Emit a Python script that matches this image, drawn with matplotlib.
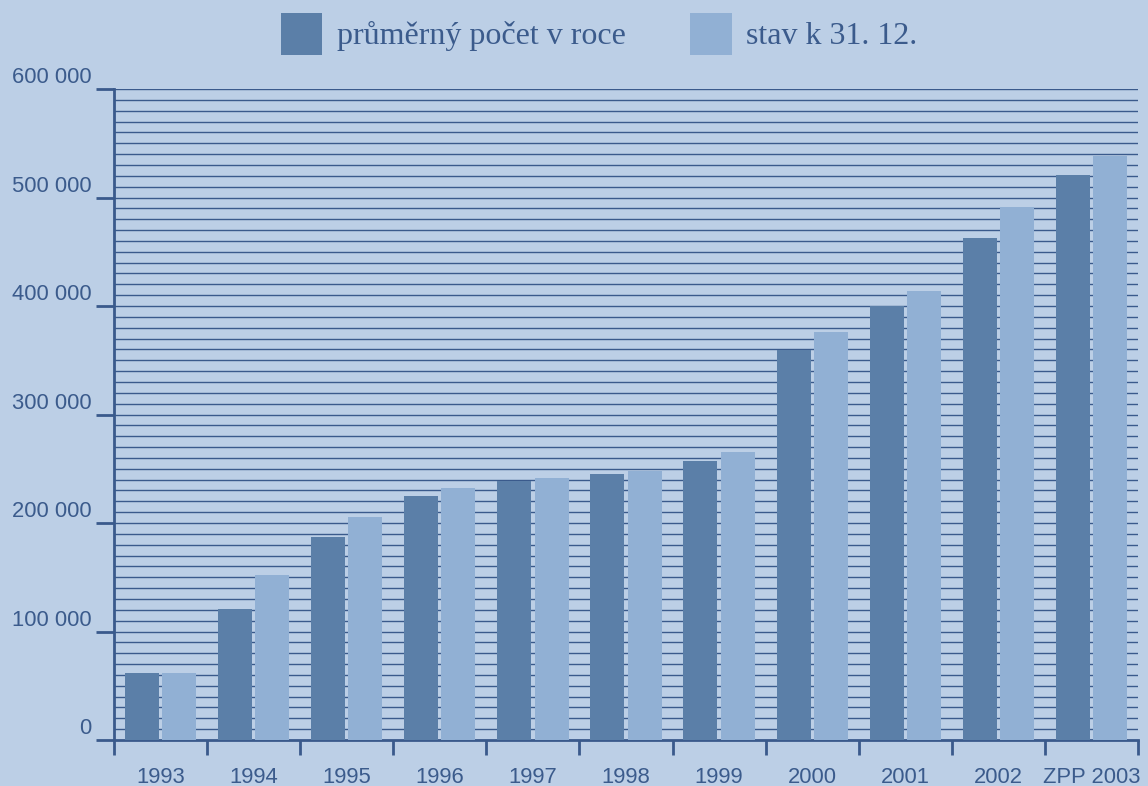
import matplotlib
matplotlib.use("Agg")
import matplotlib.pyplot as plt
from matplotlib.patches import Patch
import numpy as np

categories = ["1993", "1994", "1995", "1996", "1997", "1998", "1999",
              "2000", "2001", "2002", "ZPP 2003"]
prumerny = [62000, 120500, 187000, 225000, 239000, 245500, 257500,
            359500, 400000, 463000, 520500]
stav = [62000, 152000, 205500, 232500, 241500, 248000, 265000,
        376000, 414000, 491500, 538000]
series_names = ["průměrný počet v roce", "stav k 31. 12."]
ytick_values = [0, 100000, 200000, 300000, 400000, 500000, 600000]
ytick_labels = ["0", "100 000", "200 000", "300 000", "400 000", "500 000", "600 000"]

BG = "#bccfe6"
DARK = "#5b7fa8"
LIGHT = "#91b0d4"
LINE = "#3a5a8c"
TEXT = "#3b5b8c"

fig = plt.figure(figsize=(11.48, 7.86), dpi=100, facecolor=BG)
ax = fig.add_axes([114/1148, 46/786, 1024/1148, 651/786])
ax.set_facecolor(BG)

x = np.arange(len(categories))
w = 0.365
ax.bar(x - 0.2, prumerny, width=w, color=DARK, zorder=3)
ax.bar(x + 0.2, stav, width=w, color=LIGHT, zorder=3)

ax.set_xlim(-0.5, len(categories) - 0.5)
ax.set_ylim(0, 600000)

# horizontal grid lines every 10 000
for v in np.arange(10000, 600001, 10000):
    ax.axhline(v, color=LINE, lw=1.0, zorder=1)

for s in ["top", "right"]:
    ax.spines[s].set_visible(False)
for s in ["left", "bottom"]:
    ax.spines[s].set_color(LINE)
    ax.spines[s].set_linewidth(2)

ax.set_yticks(ytick_values)
ax.set_yticklabels([])
ax.tick_params(axis="y", length=13, width=2, color=LINE)
for v, lab in zip(ytick_values, ytick_labels):
    ax.annotate(lab, xy=(0, v), xycoords=("axes fraction", "data"),
                xytext=(-16, 4.3), textcoords="offset points",
                ha="right", va="baseline", fontsize=15.8, color=TEXT,
                family="Liberation Sans", annotation_clip=False)

ax.set_xticks(np.arange(-0.5, len(categories), 1.0))
ax.set_xticklabels([])
ax.tick_params(axis="x", which="major", length=11, width=2, color=LINE)
ax.set_xticks(x, minor=True)
ax.set_xticklabels(categories, minor=True, fontsize=15.8, color=TEXT,
                   family="Liberation Sans")
ax.tick_params(axis="x", which="minor", length=0, pad=19.5)

handles = [Patch(facecolor=DARK, edgecolor="none"),
           Patch(facecolor=LIGHT, edgecolor="none")]
leg = fig.legend(handles, series_names, loc="center", bbox_to_anchor=(0.5218, 0.9567),
                 ncol=2, frameon=False, handlelength=1.313, handleheight=1.643,
                 handletextpad=0.44, columnspacing=2.03, borderpad=0, borderaxespad=0,
                 prop={"family": "Liberation Serif", "size": 23})
for t in leg.get_texts():
    t.set_color(TEXT)

fig.savefig("out.png", dpi=100, facecolor=BG)
